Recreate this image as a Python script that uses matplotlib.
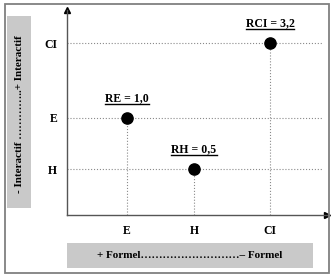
import matplotlib.pyplot as plt
from matplotlib.patches import Rectangle
from matplotlib.lines import Line2D

W, H = 334, 280

# categories and positions (axis units)
x_labels = ["E", "H", "CI"]
x_pos = [60, 127, 203]
y_labels = ["H", "E", "CI"]
y_pos = [46, 97, 172]

points = ["RE = 1,0", "RH = 0,5", "RCI = 3,2"]
point_x = [60, 127, 203]
point_y = [97, 46, 172]

x_title = "+ Formel\u2026\u2026\u2026\u2026\u2026\u2026\u2026\u2026\u2026\u2013 Formel"
y_title = "- Interactif \u2026\u2026\u2026\u2026..+ Interactif"

FONT = "Liberation Serif"
GRID = "#8a8a8a"
BOX = "#c9c9c9"


def px(x0, y0, x1, y1):
    # pixel box -> figure fraction rect
    return [x0 / W, 1 - y1 / H, (x1 - x0) / W, (y1 - y0) / H]


fig = plt.figure(figsize=(W / 100, H / 100), dpi=100)
fig.patch.set_facecolor("white")

# outer frame
fig.patches.append(Rectangle((5 / W, 1 - 273 / H), 324 / W, 269 / H,
                             transform=fig.transFigure, fill=False,
                             edgecolor="#808080", linewidth=1.3))
# gray title boxes
fig.patches.append(Rectangle((7 / W, 1 - 208 / H), 24 / W, 192 / H,
                             transform=fig.transFigure, facecolor=BOX,
                             edgecolor="none"))
fig.patches.append(Rectangle((67 / W, 1 - 268 / H), 246 / W, 25 / H,
                             transform=fig.transFigure, facecolor=BOX,
                             edgecolor="none"))
fig.text(19.5 / W, 1 - 114 / H, y_title, rotation=90, ha="center", va="center",
         fontsize=8, fontweight="bold", family=FONT)
fig.text(190 / W, 1 - 256 / H, x_title, ha="center", va="center",
         fontsize=8, fontweight="bold", family=FONT)

ax = fig.add_axes(px(67, 10, 327, 215))
ax.set_xlim(0, 260)
ax.set_ylim(0, 205)
ax.set_facecolor("none")
for side in ["top", "right"]:
    ax.spines[side].set_visible(False)
for side in ["left", "bottom"]:
    ax.spines[side].set_color("#555555")
    ax.spines[side].set_linewidth(1.0)

# arrow heads
ax.plot(1, 0, ">", color="black", markersize=5, transform=ax.transAxes, clip_on=False)
ax.plot(0, 1, "^", color="black", markersize=5, transform=ax.transAxes, clip_on=False)

# dotted guides
for y in y_pos:
    ax.axhline(y, xmax=0.98, color=GRID, linestyle=":", linewidth=0.8)
for x, y in zip(point_x, point_y):
    ax.plot([x, x], [0, y], color=GRID, linestyle=":", linewidth=0.8)

ax.scatter(point_x, point_y, s=65, color="black", zorder=3)

ax.set_xticks(x_pos)
ax.set_xticklabels(x_labels)
ax.set_yticks(y_pos)
ax.set_yticklabels(y_labels)
ax.tick_params(length=0, pad=7)
for lab in ax.get_xticklabels() + ax.get_yticklabels():
    lab.set_family(FONT)
    lab.set_fontweight("bold")
    lab.set_fontsize(8.5)

labels = []
for name, x, y in zip(points, point_x, point_y):
    t = ax.annotate(name, (x, y), xytext=(0, 10), textcoords="offset points",
                    ha="center", va="bottom", fontsize=8.5, fontweight="bold",
                    family=FONT)
    labels.append(t)

# underline the point labels
fig.canvas.draw()
r = fig.canvas.get_renderer()
for t in labels:
    bb = t.get_window_extent(r)
    yb = bb.y0 + 0.5
    fig.lines.append(Line2D([bb.x0 / W, bb.x1 / W], [yb / H, yb / H],
                            transform=fig.transFigure, color="black",
                            linewidth=1.0))

fig.savefig("out.png", dpi=100)
